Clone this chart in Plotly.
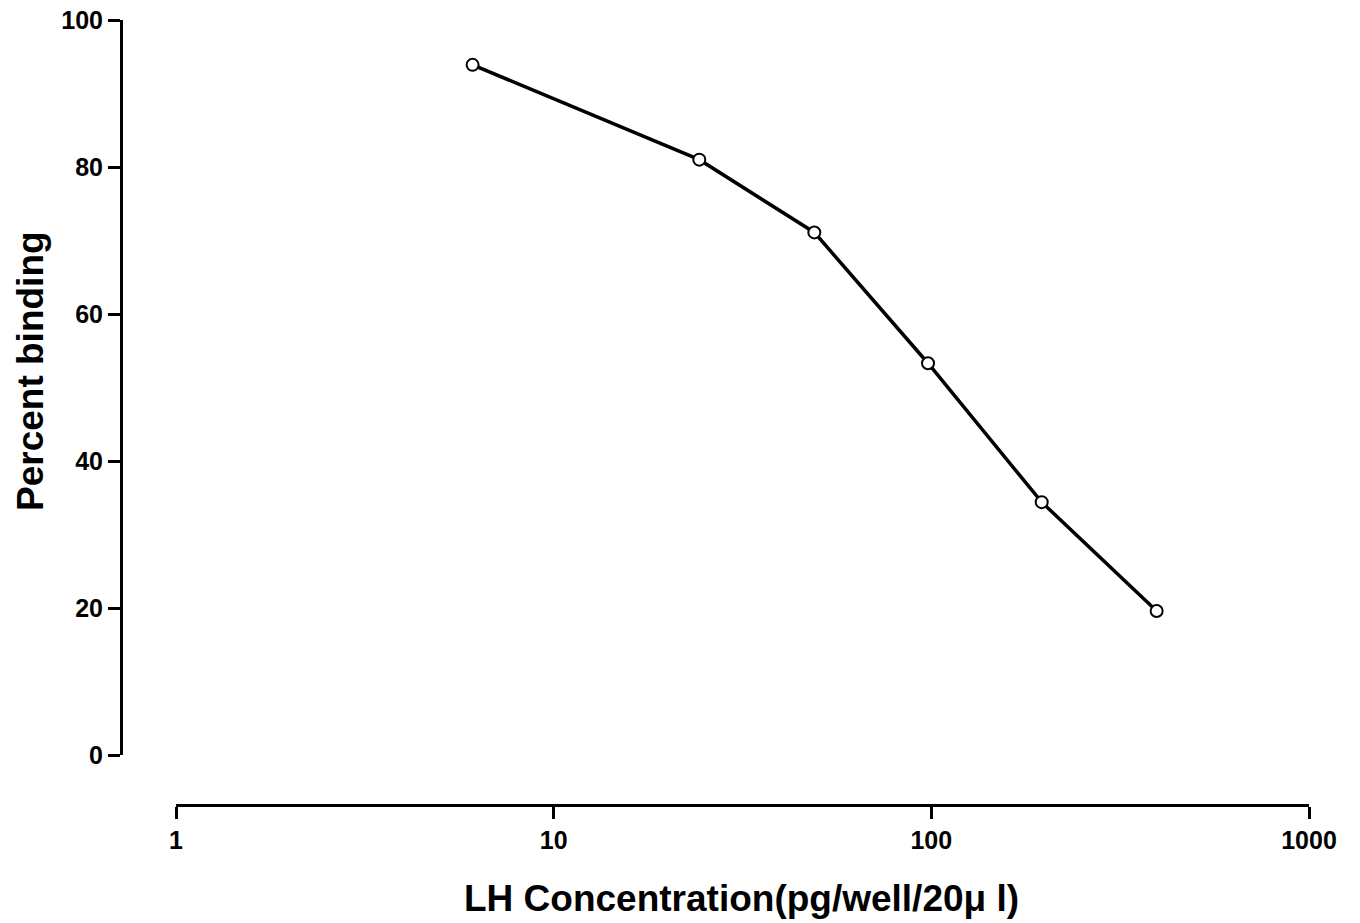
import plotly.graph_objects as go

# Data
concentration = [6.1, 24.3, 49, 98, 196, 395]       # pg/well/20 µl
percent_binding = [93.9, 81.0, 71.1, 53.3, 34.4, 19.6]

x_tickvals = [1, 10, 100, 1000]
x_ticktext = ["1", "10", "100", "1000"]
y_tickvals = [0, 20, 40, 60, 80, 100]
y_ticktext = ["0", "20", "40", "60", "80", "100"]

W, H = 1360, 923
L, R, T, B = 121, 51, 20, 118
plot_w = W - L - R
plot_h = H - T - B

x_dom0 = (176 - L) / plot_w
y_dom0 = (805 - 755) / plot_h

tick_font = dict(family="Liberation Sans, Arial, sans-serif", size=25, color="black", weight="bold")
title_font = dict(family="Liberation Sans, Arial, sans-serif", size=37, color="black", weight="bold")

fig = go.Figure()
fig.add_trace(go.Scatter(
    x=concentration, y=percent_binding,
    mode="lines+markers",
    line=dict(color="black", width=3.5),
    marker=dict(symbol="circle", size=12, color="white",
                line=dict(color="black", width=2)),
    showlegend=False,
))

fig.update_layout(
    width=W, height=H,
    margin=dict(l=L, r=R, t=T, b=B, pad=0, autoexpand=False),
    paper_bgcolor="white", plot_bgcolor="white",
    xaxis=dict(
        type="log", range=[0, 3], domain=[x_dom0, 1],
        anchor="free", position=0, automargin=False,
        showline=True, linecolor="black", linewidth=3,
        ticks="outside", ticklen=12, tickwidth=3, tickcolor="black",
        tickvals=x_tickvals, ticktext=x_ticktext, tickfont=tick_font,
        showgrid=False, zeroline=False,
    ),
    yaxis=dict(
        range=[0, 100], domain=[y_dom0, 1],
        anchor="free", position=0, automargin=False,
        showline=True, linecolor="black", linewidth=3,
        ticks="outside", ticklen=12, tickwidth=3, tickcolor="black",
        tickvals=y_tickvals, ticktext=y_ticktext, tickfont=tick_font,
        showgrid=False, zeroline=False,
    ),
    annotations=[
        dict(text="LH Concentration(pg/well/20\u03bc l)", xref="paper", yref="paper",
             x=(741 - L) / plot_w, y=(805 - 898) / plot_h,
             xanchor="center", yanchor="middle", showarrow=False, font=title_font),
        dict(text="Percent binding", xref="paper", yref="paper",
             x=(30 - L) / plot_w, y=(805 - 371) / plot_h,
             xanchor="center", yanchor="middle", showarrow=False, textangle=-90,
             font=title_font),
    ],
)

fig.write_html("out.html")
